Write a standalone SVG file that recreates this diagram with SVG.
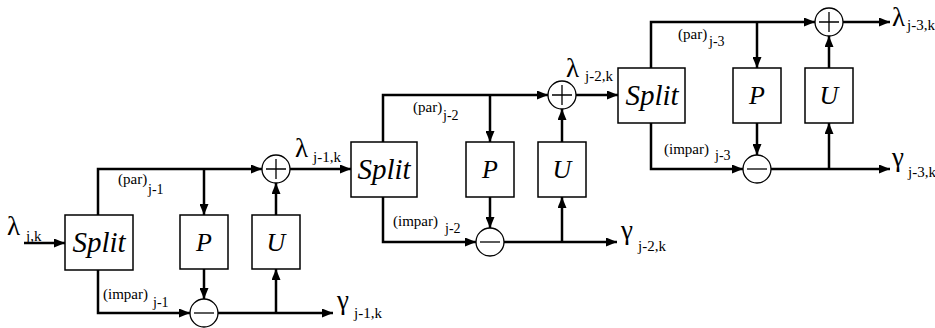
<svg xmlns="http://www.w3.org/2000/svg" width="935" height="328" viewBox="0 0 935 328" font-family="Liberation Serif, DejaVu Serif, serif">
<style>
.box{fill:#fff;stroke:#000;stroke-width:1.5}
.circ{fill:#fff;stroke:#000;stroke-width:1.3}
.sign{stroke:#000;stroke-width:1.3;fill:none}
.ln{fill:none;stroke:#000;stroke-width:2.5}
.arr{marker-end:url(#ah)}
.split{font-style:italic;font-size:29px;text-anchor:middle}
.blk{font-style:italic;font-size:26px;text-anchor:middle}
.lbl{font-size:15px}
.sub{font-size:14px}
.gr{font-size:27px}
.gsub{font-size:15px}
</style>
<defs>
<marker id="ah" markerUnits="userSpaceOnUse" markerWidth="11" markerHeight="9" refX="11" refY="4.5" orient="auto">
<path d="M0,0 L11,4.5 L0,9 z" fill="#000"/>
</marker>
</defs>
<rect width="935" height="328" fill="#fff"/>
<g id="connectors">
<path class="ln arr" d="M24,243 H65"/>
<path class="ln arr" d="M98,215 V169 H262"/>
<path class="ln arr" d="M204,169 V215"/>
<path class="ln arr" d="M276,215 V183"/>
<path class="ln arr" d="M290,169 H351"/>
<path class="ln arr" d="M98,270 V313 H190"/>
<path class="ln arr" d="M204,269 V299"/>
<path class="ln arr" d="M218,313 H333"/>
<path class="ln arr" d="M276,313 V269"/>
<path class="ln arr" d="M383,142 V95 H548"/>
<path class="ln arr" d="M490,95 V142"/>
<path class="ln arr" d="M562,142 V109"/>
<path class="ln arr" d="M576,95 H618"/>
<path class="ln arr" d="M383,197 V242 H476"/>
<path class="ln arr" d="M490,197 V228"/>
<path class="ln arr" d="M504,242 H617"/>
<path class="ln arr" d="M562,242 V197"/>
<path class="ln arr" d="M651,68 V22 H815"/>
<path class="ln arr" d="M757,22 V68"/>
<path class="ln arr" d="M829,68 V36"/>
<path class="ln arr" d="M843,22 H890"/>
<path class="ln arr" d="M651,123 V169 H743"/>
<path class="ln arr" d="M757,123 V155"/>
<path class="ln arr" d="M771,169 H890"/>
<path class="ln arr" d="M829,169 V123"/>
</g>
<g id="split1"><rect class="box" x="65" y="215" width="68" height="55"/><text class="split" x="99" y="252">Split</text></g>
<g id="p1"><rect class="box" x="180" y="215" width="48" height="54"/><text class="blk" x="204" y="251">P</text></g>
<g id="u1"><rect class="box" x="252" y="215" width="48" height="54"/><text class="blk" x="276" y="251">U</text></g>
<g id="plus1"><circle class="circ" cx="276" cy="169" r="14"/><path class="sign" d="M266,169 H286 M276,159 V179"/></g>
<g id="minus1"><circle class="circ" cx="204" cy="313" r="14"/><path class="sign" d="M194,313 H214"/></g>
<g id="split2"><rect class="box" x="351" y="142" width="66" height="55"/><text class="split" x="384" y="179">Split</text></g>
<g id="p2"><rect class="box" x="466" y="142" width="48" height="55"/><text class="blk" x="490" y="178">P</text></g>
<g id="u2"><rect class="box" x="538" y="142" width="48" height="55"/><text class="blk" x="562" y="178">U</text></g>
<g id="plus2"><circle class="circ" cx="562" cy="95" r="14"/><path class="sign" d="M552,95 H572 M562,85 V105"/></g>
<g id="minus2"><circle class="circ" cx="490" cy="242" r="14"/><path class="sign" d="M480,242 H500"/></g>
<g id="split3"><rect class="box" x="618" y="68" width="67" height="55"/><text class="split" x="652" y="105">Split</text></g>
<g id="p3"><rect class="box" x="733" y="68" width="48" height="55"/><text class="blk" x="757" y="104">P</text></g>
<g id="u3"><rect class="box" x="805" y="68" width="48" height="55"/><text class="blk" x="829" y="104">U</text></g>
<g id="plus3"><circle class="circ" cx="829" cy="22" r="14"/><path class="sign" d="M819,22 H839 M829,12 V32"/></g>
<g id="minus3"><circle class="circ" cx="757" cy="169" r="14"/><path class="sign" d="M747,169 H767"/></g>
<g id="labels">
<text class="gr" x="7" y="235">λ</text><text class="gsub" x="26" y="241">j,k</text>
<text class="lbl" x="118" y="184">(par)</text><text class="sub" x="148" y="194">j-1</text>
<text class="lbl" x="103" y="299">(impar)</text><text class="sub" x="153" y="307">j-1</text>
<text class="gr" x="295" y="157">λ</text><text class="gsub" x="313" y="162">j-1,k</text>
<text class="gr" x="337" y="309">γ</text><text class="gsub" x="354" y="318">j-1,k</text>
<text class="lbl" x="413" y="112">(par)</text><text class="sub" x="443" y="120">j-2</text>
<text class="lbl" x="393" y="226">(impar)</text><text class="sub" x="445" y="233">j-2</text>
<text class="gr" x="566" y="77">λ</text><text class="gsub" x="585" y="81">j-2,k</text>
<text class="gr" x="621" y="239">γ</text><text class="gsub" x="638" y="251">j-2,k</text>
<text class="lbl" x="678" y="39">(par)</text><text class="sub" x="709" y="46">j-3</text>
<text class="lbl" x="664" y="154">(impar)</text><text class="sub" x="715" y="160">j-3</text>
<text class="gr" x="892" y="26">λ</text><text class="gsub" x="907" y="30">j-3,k</text>
<text class="gr" x="892" y="166">γ</text><text class="gsub" x="908" y="177">j-3,k</text>
</g>
</svg>
